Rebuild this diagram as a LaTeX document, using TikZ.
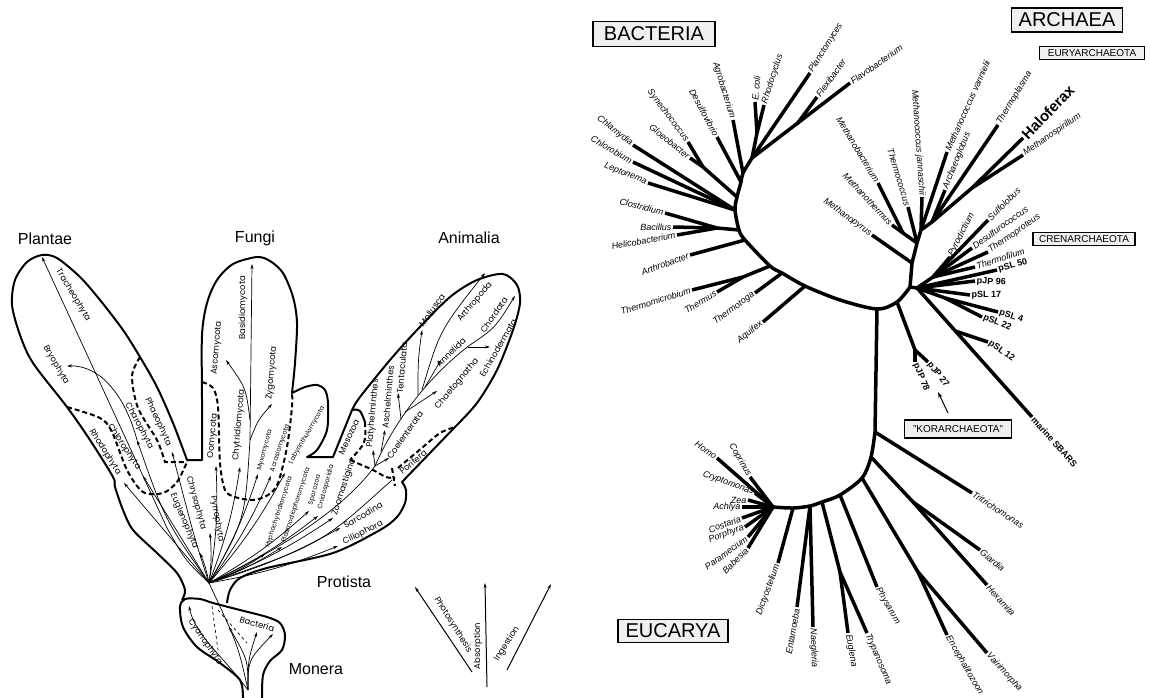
\documentclass[tikz,border=0pt]{standalone}
\usepackage{fontspec}
\setmainfont{Liberation Sans}
\newfontfamily\geofont{Poppins}
\usetikzlibrary{arrows.meta}

\tikzset{
  lobe/.style={line width=2pt, line join=round},
  kborder/.style={line width=2pt, dash pattern=on 5pt off 3pt},
  twig/.style={line width=0.7pt},
  twigarr/.style={line width=0.7pt, -{Stealth[length=5pt,width=3pt]}},
  phylum/.style={font=\geofont\fontsize{8.5}{9}\selectfont, inner sep=1pt},
  smallphylum/.style={font=\geofont\fontsize{6.5}{7}\selectfont, inner sep=1pt},
  kingdom/.style={font=\fontsize{16}{18}\selectfont, inner sep=1pt},
  treeline/.style={line width=3.5pt},
  taxon/.style={font=\itshape\fontsize{9}{10}\selectfont, inner sep=1.5pt},
  clone/.style={font=\bfseries\fontsize{9}{10}\selectfont, inner sep=1.5pt},
  domainbox/.style={draw, fill=gray!12, line width=1.3pt, font=\fontsize{20}{20}\selectfont, inner sep=0pt},
  subbox/.style={draw, fill=gray!12, line width=1.1pt, font=\fontsize{10}{10}\selectfont, inner sep=0pt},
}

\begin{document}
\begin{tikzpicture}[x=1pt, y=-1pt]
\useasboundingbox (0,0) rectangle (1150,698);
\clip (0,0) rectangle (1150,698);

% ===== five kingdoms =====
\draw[lobe] plot[smooth] coordinates {(182,600) (185,590) (177,573) (157,553) (133,530) (123,510) (115,487) (113,477) (90,440) (67,407) (33,363) (20,335) (12,305) (15,280) (27,262) (42,255) (57,258) (80,277) (100,300) (123,330) (140,357) (157,387) (173,423) (187,460)}
  -- (202,460)
  -- plot[smooth] coordinates {(202,460) (202,400) (202,335) (207,303) (217,280) (233,264) (257,257) (270,261) (283,273) (293,297) (297,323) (295,363) (292,393)}
  -- plot[smooth] coordinates {(292,393) (305,387) (317,385) (325,390) (328,403) (327,430) (317,450) (307,457)}
  -- (333,457) -- (352,410)
  -- plot[smooth] coordinates {(352,410) (360,397) (390,360) (417,330) (450,297) (477,280) (503,274) (517,285) (520,303) (513,330) (497,370) (477,403) (455,427)}
  -- (402,482)
  -- plot[smooth] coordinates {(402,482) (406,490) (405,503) (397,517) (380,530) (333,553) (267,568) (240,578) (230,590) (227,603)};
\draw[lobe] plot[smooth] coordinates {(243,698) (240,680) (220,663) (197,647) (183,627) (180,607) (185,599) (200,599) (213,603) (240,610) (267,617) (280,623) (285,635) (282,650) (270,661) (263,675) (262,698)};

% dashed boundaries
\draw[kborder] plot[smooth] coordinates {(67,407) (100,418) (112,432) (127,470) (143,492) (163,493) (177,482) (187,462)};
\draw[kborder] plot[smooth] coordinates {(140,357) (132,376) (138,408) (157,440) (165,462)} -- (187,462);
\draw[kborder] plot[smooth] coordinates {(202,382) (213,388) (218,407) (220,463) (225,490) (235,497) (253,500) (268,495) (278,483) (287,447) (292,407) (292,393)};
\draw[lobe] (352,410) .. controls (360,409) .. (365,422);
\draw[kborder] (365,422) .. controls (366,443) .. (350,460);
\draw[kborder] plot[smooth] coordinates {(350,460) (373,470) (386,477) (395,478)};
\draw[kborder] (392,468) -- (395,486);
\draw[kborder] plot[smooth] coordinates {(398,468) (423,447) (440,433) (455,427)};

% roots
\coordinate (monroot) at (248,690);
\coordinate (proroot) at (209,583);
\coordinate (aniroot) at (375,466);

% Monera
\draw[twig, dashed] (212,606) -- (218,650);
\draw[twig, dashed] (218,610) -- (247,643);
\draw[twig] (monroot) .. controls (238,645) .. (proroot);
\coordinate (cyano) at (189,606);
\draw[twigarr] (monroot) .. controls (222,655) and (195,635) .. (cyano);
\foreach \x/\y [count=\i] in {229/627, 257/632, 273/634}{
  \coordinate (bac\i) at (\x,\y);
  \draw[twigarr] (monroot) .. controls (248,660) .. (bac\i);
}

% Plantae
\coordinate (trach) at (42,257);
\coordinate (rhodo) at (124,483);
\coordinate (chloro) at (143,476);
\coordinate (charo) at (137,440);
\coordinate (bryo) at (67,366);
\coordinate (phaeo) at (172,452);
\draw[twigarr] (proroot) .. controls (185,560) .. (167,528) -- (trach);
\draw[twigarr] (proroot) -- (rhodo);
\draw[twigarr] (proroot) -- (chloro);
\draw[twigarr] (proroot) .. controls (165,520) .. (charo);
\draw[twigarr] (charo) .. controls (125,395) and (100,365) .. (bryo);
\draw[twigarr] (proroot) .. controls (195,540) .. (phaeo);

% Protista fan
\foreach \x/\y [count=\i] in {200/553, 210/533, 216/466, 240/467, 258/474, 271/476, 285/473,
    265/554, 282/547, 309/511, 318/516, 333/518, 340/528, 338/546}{
  \coordinate (pt\i) at (\x,\y);
  \draw[twigarr] (proroot) to[bend right=6] (pt\i);
}

% Fungi
\coordinate (fungfork) at (250,440);
\coordinate (ascfork) at (250,420);
\coordinate (basid) at (252,264);
\coordinate (asco) at (226,360);
\coordinate (zygo) at (272,404);
\draw[twigarr] (proroot) .. controls (245,520) .. (fungfork) -- (basid);
\draw[twigarr] (ascfork) .. controls (246,388) .. (asco);
\draw[twigarr] (fungfork) .. controls (258,420) .. (zygo);

% Animalia
\coordinate (porif) at (392,480);
\coordinate (chord) at (515,296);
\draw[twig] (proroot) .. controls (300,540) and (350,500) .. (aniroot);
\draw[twig] (proroot) .. controls (320,545) .. (porif);
\draw[twigarr] (aniroot) .. controls (395,420) and (430,375) .. (470,345) .. controls (495,328) .. (chord);
\foreach \fx/\fy/\x/\y [count=\i] in {375/466/373/450, 381/452/385/430, 375/466/389/458,
    401/419/398/393, 405/412/437/391, 425/387/441/360, 468/347/490/347}{
  \coordinate (af\i) at (\fx,\fy);
  \coordinate (at\i) at (\x,\y);
  \draw[twigarr] (af\i) -- (at\i);
}
\coordinate (mollfork) at (418,395);
\coordinate (arthfork) at (422,390);
\coordinate (moll) at (422,330);
\coordinate (arth) at (485,273);
\draw[twigarr] (mollfork) .. controls (418,360) .. (moll);
\draw[twigarr] (arthfork) .. controls (440,330) .. (arth);

% phylum names
\foreach \x/\y/\ang/\txt [count=\i] in {73/295/-59/Tracheophyta, 56/365/-60/Bryophyta,
    139/426/-62/Charophyta, 158/422/-65/Phaeophyta, 124/447/-56/Chlorophyta,
    105/452/-58/Rhodophyta, 184/521/-67/Euglenophyta, 196/503/-74/Chrysophyta,
    217/519/-80/Pyrrophyta, 213/436/85/Oomycota, 217/348/85/Ascomycota,
    243/308/90/Basidiomycota, 239/425/85/Chytridiomycota, 272/373/85/Zygomycota,
    344/487/72/Zoomastigina, 363/515/30/Sarcodina, 363/533/27/Ciliophora,
    349/437/65/Mesozoa, 373/413/85/Platyhelminthes, 388/397/85/Aschelminthes,
    402/368/85/Tentaculata, 405/435/55/Coelenterata, 413/462/40/Porifera,
    432/310/55/Mollusca, 475/302/50/Arthropoda, 451/352/45/Annelida,
    494/315/55/Chordata, 457/384/50/Chaetognatha, 498/348/60/Echinodermata,
    205/642/-55/Cyanophyta, 257/624/-15/Bacteria}
  \node[phylum, rotate=\ang] (ph\i) at (\x,\y) {\txt};
\foreach \x/\y/\ang/\txt [count=\i] in {265/450/75/Myxomycota, 280/448/72/Acrasiomycota,
    307/435/60/Labyrinthulomycota, 279/512/72/Hyphochytridiomycota,
    296/505/72/Plasmodiophoromycota, 315/490/75/Sporozoa, 326/487/75/Cnidosporidia}
  \node[smallphylum, rotate=\ang] (sp\i) at (\x,\y) {\txt};

% kingdoms
\node[kingdom] (plantae) at (45,239) {Plantae};
\node[kingdom] (fungi) at (255,238) {Fungi};
\node[kingdom] (animalia) at (469,238) {Animalia};
\node[kingdom] (protista) at (344,582) {Protista};
\node[kingdom] (monera) at (316,669) {Monera};

% modes of nutrition
\coordinate (photoT) at (472,672); \coordinate (photoH) at (415,587);
\coordinate (absT) at (487,687);   \coordinate (absH) at (485,583);
\coordinate (ingT) at (507,670);   \coordinate (ingH) at (551,584);
\draw[twigarr, line width=1pt] (photoT) -- (photoH);
\draw[twigarr, line width=1pt] (absT) -- (absH);
\draw[twigarr, line width=1pt] (ingT) -- (ingH);
\node[phylum, rotate=-58] (photo) at (453,625) {Photosynthesis};
\node[phylum, rotate=90] (absorb) at (478,646) {Absorption};
\node[phylum, rotate=57] (ingest) at (507,644) {Ingestion};

% ===== universal tree =====
\coordinate (bb1) at (752,158);  \coordinate (bb2) at (743,173);
\coordinate (bb3) at (741,182);  \coordinate (bb4) at (737,197);
\coordinate (bb5) at (735,210);  \coordinate (bb6) at (739,230);
\coordinate (bb7) at (745,240);  \coordinate (bb8) at (770,266);
\coordinate (bb9) at (782,273);  \coordinate (bb10) at (805,286);
\coordinate (bb11) at (840,300); \coordinate (root) at (877,309);
\coordinate (knode) at (897,302); \coordinate (anode) at (910,287);
\coordinate (etop) at (875,432);
\draw[treeline] plot[smooth] coordinates {(bb1) (bb2) (bb3) (bb4) (bb5) (bb6) (bb7) (bb8) (bb9) (bb10) (bb11) (root) (knode) (anode)};
\draw[treeline] (root) -- (etop);

% Bacteria
\coordinate (nfx) at (797,124); \coordinate (nec) at (757,133);
\coordinate (nsy) at (703,167); \coordinate (ncl) at (717,228);
\coordinate (ntm) at (743,277);
\draw[treeline] (bb1) -- (nec);
\draw[treeline] (bb4) -- (nsy);
\draw[treeline] (bb6) -- (ncl);
\draw[treeline] (bb8) -- (ntm);
\foreach \p/\x/\y/\ang/\anc/\txt [count=\i] in {bb1/810/73/58/west/Planctomyces,
    bb1/850/83/35/west/Flavobacterium, nfx/817/97/54/west/Flexibacter,
    nec/755/102/85/west/E. coli, nec/764/105/72/west/Rhodocyclus,
    bb2/733/120/-73/east/Agrobacterium, bb3/717/137/-62/east/Desulfovibrio,
    nsy/688/142/-53/east/Synechococcus, nsy/690/158/-39/east/Gloeobacter,
    bb5/633/145/-38/east/Chlamydia, bb5/633/162/-30/east/Chlorobium,
    bb5/648/183/-22/east/Leptonema, ncl/665/213/-15/east/Clostridium,
    ncl/673/227/0/east/Bacillus, ncl/677/235/10/east/Helicobacterium,
    bb7/690/255/20/east/Arthrobacter, ntm/692/290/17/east/Thermomicrobium,
    ntm/717/292/31/east/Thermus, bb9/755/293/36/east/Thermotoga,
    bb10/763/322/39/east/Aquifex}{
  \coordinate (bt\i) at (\x,\y);
  \draw[treeline] (\p) -- (bt\i);
  \node[taxon, rotate=\ang, anchor=\anc] (bl\i) at (bt\i) {\txt};
}

% Archaea
\coordinate (e0) at (912,263);  \coordinate (e1) at (917,243);
\coordinate (nmb) at (903,233); \coordinate (e2) at (921,230);
\coordinate (e3) at (932,222);  \coordinate (e4) at (972,188);
\coordinate (c0) at (917,288);  \coordinate (c1) at (933,277);
\coordinate (c3) at (945,298);
\coordinate (c4) at (955,331);  \coordinate (k1) at (915,350);
\draw[treeline] (anode) -- (e0) -- (e1) -- (e2) -- (e3) -- (e4);
\draw[treeline] (e1) -- (nmb);
\draw[treeline] (anode) -- (c0) -- (c1);
\draw[treeline] (c0) -- (c3);
\draw[treeline] (knode) -- (k1);
\foreach \p/\x/\y/\ang/\anc/\txt [count=\i] in {e0/872/235/-36/east/Methanopyrus,
    nmb/878/183/-59/east/Methanobacterium, nmb/892/225/-47/east/Methanothermus,
    e1/908/207/-73/east/Thermococcus, e2/922/197/-86/east/Methanococcus jannaschii,
    e2/947/152/66/west/Methanococcus vannielii, e3/945/190/68/west/Archaeoglobus,
    e3/998/125/59/west/Thermoplasma, e4/1023/155/35/west/Methanospirillum,
    c1/950/257/63/west/Pyrodictium, c1/988/220/45/west/Sulfolobus,
    c1/972/248/36/west/Desulfurococcus, c1/988/252/35/west/Thermoproteus,
    c1/975/267/18/west/Thermofilum}{
  \coordinate (at\i) at (\x,\y);
  \draw[treeline] (\p) -- (at\i);
  \node[taxon, rotate=\ang, anchor=\anc] (al\i) at (at\i) {\txt};
}
\coordinate (halo) at (1023,138);
\draw[treeline] (e4) -- (halo);
\node[font=\bfseries\fontsize{15}{16}\selectfont, rotate=46, anchor=west, inner sep=1.5pt] (hallab) at (halo) {Haloferax};
\foreach \p/\x/\y/\ang/\anc/\txt [count=\i] in {c0/997/270/15/west/pSL 50,
    c0/975/281/-4/west/pJP 96, c0/970/295/0/west/pSL 17,
    c3/998/312/-18/west/pSL 4, c3/982/317/-22/west/pSL 22,
    c4/988/342/-35/west/pSL 12, c0/1032/417/-48/west/marine SBARS,
    k1/915/362/-68/west/pJP 78, k1/928/362/-52/west/pJP 27}{
  \coordinate (ct\i) at (\x,\y);
  \draw[treeline] (\p) -- (ct\i);
  \node[clone, rotate=\ang, anchor=\anc] (cl\i) at (ct\i) {\txt};
}

% Eucarya
\coordinate (u1) at (871,457); \coordinate (u2) at (862,478);
\coordinate (u3) at (840,495); \coordinate (u4) at (822,502);
\coordinate (u5) at (810,506); \coordinate (u6) at (793,508);
\coordinate (u7) at (773,507);
\coordinate (ngi) at (913,502); \coordinate (nmi) at (918,572);
\coordinate (ntr) at (840,572);
\draw[treeline] plot[smooth] coordinates {(etop) (u1) (u2) (u3) (u4) (u5) (u6) (u7)};
\draw[treeline] (u1) -- (ngi);
\draw[treeline] (u2) -- (nmi);
\draw[treeline] (u4) -- (ntr);
\foreach \p/\x/\y/\ang/\anc/\txt [count=\i] in {etop/972/493/-33/west/Tritrichomonas,
    ngi/980/550/-40/west/Giardia, ngi/987/585/-48/west/Hexamita,
    nmi/947/635/-60/west/Encephalitozoon, nmi/987/653/-48/west/Vairimorpha,
    u3/877/587/-60/west/Physarum, ntr/848/633/-80/west/Euglena,
    ntr/867/633/-67/west/Trypanosoma, u5/813/627/-88/west/Naegleria,
    u5/797/607/80/east/Entamoeba, u6/778/563/70/east/Dictyostelium,
    u7/717/458/-35/east/Homo, u7/750/477/-60/east/Coprinus,
    u7/755/493/-20/east/Cryptomonas, u7/748/500/0/east/Zea,
    u7/742/507/0/east/Achlya, u7/742/518/20/east/Costaria,
    u7/745/527/20/east/Porphyra, u7/748/537/36/east/Paramecium,
    u7/748/548/45/east/Babesia}{
  \coordinate (ut\i) at (\x,\y);
  \draw[treeline] (\p) -- (ut\i);
  \node[taxon, rotate=\ang, anchor=\anc] (ul\i) at (ut\i) {\txt};
}

% domain boxes
\node[domainbox, minimum width=122pt, minimum height=25pt] (bact) at (654,34) {BACTERIA};
\node[domainbox, minimum width=111pt, minimum height=24pt] (arch) at (1067,20) {ARCHAEA};
\node[domainbox, minimum width=110pt, minimum height=23pt] (euca) at (673,631) {EUCARYA};
\node[subbox, minimum width=105pt, minimum height=13pt] (eury) at (1092,53) {EURYARCHAEOTA};
\node[subbox, minimum width=102pt, minimum height=13pt] (cren) at (1084,239) {CRENARCHAEOTA};
\node[subbox, minimum width=107pt, minimum height=18pt] (kora) at (958,429) {"KORARCHAEOTA"};
\coordinate (koraT) at (948,413);
\coordinate (koraH) at (938,392);
\draw[line width=1pt, -{Stealth[length=6pt,width=4pt]}] (koraT) -- (koraH);
\end{tikzpicture}
\end{document}
